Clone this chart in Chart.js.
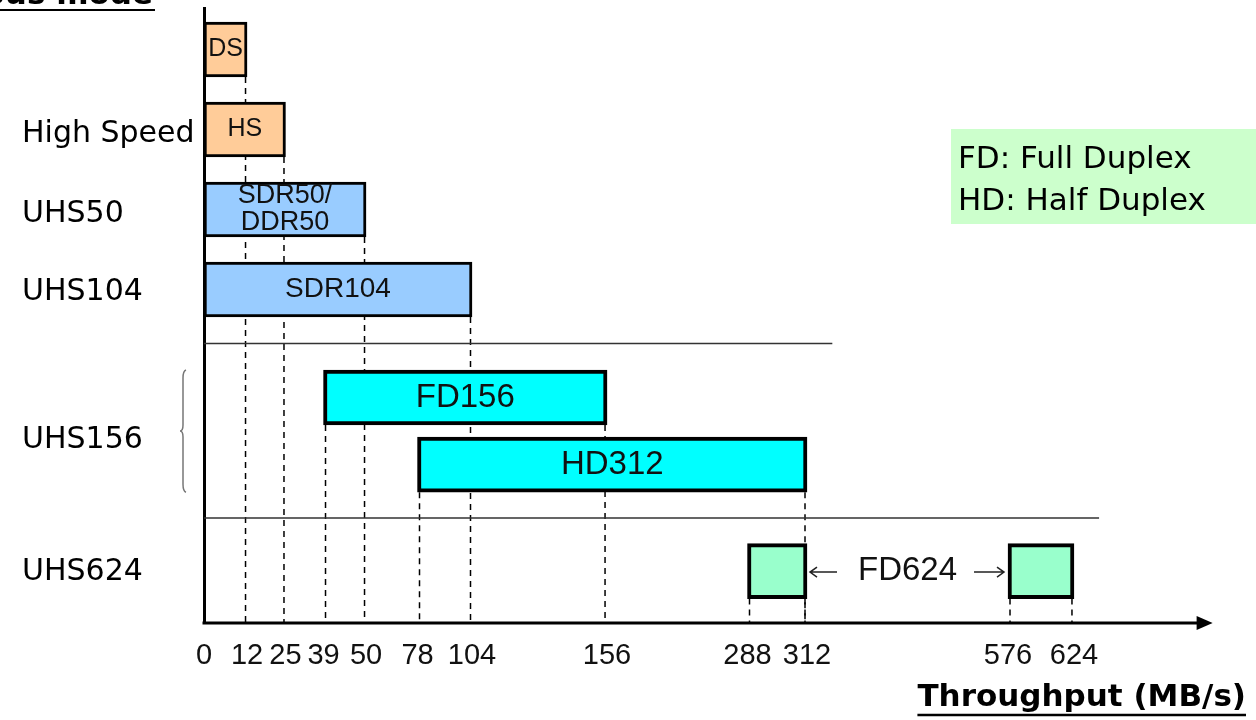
<!DOCTYPE html>
<html>
<head>
<meta charset="utf-8">
<title>Bus mode throughput</title>
<script src="https://cdn.jsdelivr.net/npm/chart.js@4.4.1/dist/chart.umd.min.js"></script>
<style>
    html, body { margin: 0; padding: 0; background: #fff; }
    #wrap { width: 1256px; height: 720px; }
</style>
</head>
<body>
<div id="wrap"><canvas id="myChart"></canvas></div>
<script>
// Bus modes shown on the left
var busModes = ['High Speed', 'UHS50', 'UHS104', 'UHS156', 'UHS624'];

// One entry per box: name, start and end throughput (MB/s)
var barNames = ['DS', 'HS', 'SDR50/\nDDR50', 'SDR104', 'FD156', 'HD312', 'FD624', 'FD624'];
var barStart = [0, 0, 0, 0, 39, 78, 288, 576];
var barEnd = [12, 25, 50, 104, 156, 312, 312, 624];

// Throughput ticks
var tickValues = [0, 12, 25, 39, 50, 78, 104, 156, 288, 312, 576, 624];

// ---- layout / style (not data) ----
// the throughput axis is not linear: where each tick sits, as a fraction of the axis length
var tickFrac = [0, 0.0413, 0.0782, 0.1147, 0.1555, 0.2049, 0.2572, 0.3868, 0.5216, 0.5787, 0.7716, 0.8349];
var axisEnd = 750;
// vertical slot of each box and of each mode label
var barRow = [0, 1, 2, 3, 4.35, 5.19, 6.52, 6.52];
var modeRow = [1.06, 2.06, 3.03, 4.89, 6.53];
var barFill = ['#FFCC99', '#FFCC99', '#99CCFF', '#99CCFF', '#00FFFF', '#00FFFF', '#99FFCC', '#99FFCC'];
var barBorder = [3, 3, 3, 3, 4, 4, 4, 4];
var barFont = [25, 25, 27, 28, 33, 33, 33, 33];

// piecewise linear scale so the ticks land where they do in the original figure
var breaks = tickValues.concat([axisEnd]);
var fracs = tickFrac.concat([1]);

function valueToFrac(v) {
    if (v <= breaks[0]) return fracs[0];
    for (var i = 1; i < breaks.length; i++) {
        if (v <= breaks[i]) {
            var t = (v - breaks[i - 1]) / (breaks[i] - breaks[i - 1]);
            return fracs[i - 1] + t * (fracs[i] - fracs[i - 1]);
        }
    }
    return 1;
}

function fracToValue(f) {
    if (f <= fracs[0]) return breaks[0];
    for (var i = 1; i < fracs.length; i++) {
        if (f <= fracs[i]) {
            var t = (f - fracs[i - 1]) / (fracs[i] - fracs[i - 1]);
            return breaks[i - 1] + t * (breaks[i] - breaks[i - 1]);
        }
    }
    return axisEnd;
}

class PiecewiseScale extends Chart.LinearScale {
    getPixelForValue(value) {
        return this.getPixelForDecimal(valueToFrac(value));
    }
    getValueForPixel(pixel) {
        return fracToValue(this.getDecimalForPixel(pixel));
    }
}
PiecewiseScale.id = 'piecewise';
PiecewiseScale.defaults = Chart.LinearScale.defaults;
Chart.register(PiecewiseScale);

var boxes = barStart.map(function (s, i) {
    return { x: [s, barEnd[i]], y: barRow[i] };
});

function barProps(bar) {
    return bar.getProps(['x', 'y', 'base', 'height'], true);
}

var decorPlugin = {
    id: 'decor',
    beforeDatasetsDraw: function (chart) {
        // dashed guides from each box edge down to the axis
        var c = chart.ctx, area = chart.chartArea;
        var bars = chart.getDatasetMeta(0).data;
        c.save();
        c.strokeStyle = '#000';
        c.lineWidth = 1.5;
        c.setLineDash([6, 5]);
        bars.forEach(function (bar, i) {
            var p = barProps(bar);
            var bottom = p.y + p.height / 2;
            var half = barBorder[i] / 2;
            var xs = [p.x - half];
            if (p.base > area.left + 2) xs.push(p.base + half);
            xs.forEach(function (x) {
                c.beginPath();
                c.moveTo(x, bottom);
                c.lineTo(x, area.bottom);
                c.stroke();
            });
        });
        c.restore();
    },
    afterDatasetsDraw: function (chart) {
        var c = chart.ctx;
        var bars = chart.getDatasetMeta(0).data;
        c.save();
        c.fillStyle = '#111';
        c.textAlign = 'center';
        c.textBaseline = 'middle';
        for (var i = 0; i < bars.length; i++) {
            var p = barProps(bars[i]);
            c.font = barFont[i] + 'px "Liberation Sans", Arial, sans-serif';
            if (i + 1 < bars.length && barNames[i + 1] === barNames[i]) {
                // same name twice: label sits between the two boxes with arrows
                var q = barProps(bars[i + 1]);
                var cx = (p.x + q.base) / 2;
                c.fillText(barNames[i], cx, p.y);
                drawArrow(c, p.x + 30, p.x + 3, p.y + 1);
                drawArrow(c, q.base - 34, q.base - 4, p.y + 1);
                i++;
                continue;
            }
            var lines = barNames[i].split('\n');
            var lh = barFont[i] * 1.0;
            var y0 = p.y - (lines.length - 1) * lh / 2;
            lines.forEach(function (t, k) {
                c.fillText(t, (p.x + p.base) / 2, y0 + k * lh);
            });
        }
        c.restore();
    },
    afterDraw: function (chart) {
        var c = chart.ctx, area = chart.chartArea;
        var w = area.right - area.left;
        var bars = chart.getDatasetMeta(0).data;
        var b = bars.map(barProps);
        c.save();

        // axis arrow
        var tip = area.left + 0.968 * w;
        c.strokeStyle = '#000';
        c.fillStyle = '#000';
        c.lineWidth = 3;
        c.beginPath();
        c.moveTo(area.left - 1.5, area.bottom);
        c.lineTo(tip - 10, area.bottom);
        c.stroke();
        c.beginPath();
        c.moveTo(tip, area.bottom);
        c.lineTo(tip - 16, area.bottom - 7);
        c.lineTo(tip - 16, area.bottom + 7);
        c.closePath();
        c.fill();

        // separators between the mode groups
        c.strokeStyle = '#333';
        c.lineWidth = 1.5;
        var sep1 = ((b[3].y + b[3].height / 2) + (b[4].y - b[4].height / 2)) / 2;
        var sep2 = ((b[5].y + b[5].height / 2) + (b[6].y - b[6].height / 2)) / 2;
        c.beginPath();
        c.moveTo(area.left, sep1);
        c.lineTo(area.left + 0.603 * w, sep1);
        c.moveTo(area.left, sep2);
        c.lineTo(area.left + 0.859 * w, sep2);
        c.stroke();

        // curly brace grouping FD156 / HD312
        var top = b[4].y - b[4].height / 2;
        var bot = b[5].y + b[5].height / 2;
        var mid = (top + bot) / 2;
        var bx = area.left - 21;
        c.strokeStyle = '#777';
        c.lineWidth = 1.5;
        c.beginPath();
        c.moveTo(bx + 3, top);
        c.quadraticCurveTo(bx, top + 1, bx, top + 8);
        c.lineTo(bx, mid - 6);
        c.quadraticCurveTo(bx, mid, bx - 3, mid);
        c.quadraticCurveTo(bx, mid, bx, mid + 6);
        c.lineTo(bx, bot - 8);
        c.quadraticCurveTo(bx, bot - 1, bx + 3, bot);
        c.stroke();

        // FD / HD note
        c.fillStyle = '#CCFFCC';
        c.fillRect(951, 129, 320, 95);
        c.fillStyle = '#000';
        c.font = '31px "DejaVu Sans", sans-serif';
        c.textAlign = 'left';
        c.textBaseline = 'alphabetic';
        c.fillText('FD: Full Duplex', 958, 168);
        c.fillText('HD: Half Duplex', 958, 210);

        // "Bus mode" heading, cut by the top edge
        c.font = 'bold 31px "DejaVu Sans", sans-serif';
        c.textAlign = 'right';
        c.fillText('Bus mode', 153, 4);
        c.lineWidth = 2;
        c.strokeStyle = '#000';
        c.beginPath();
        c.moveTo(0, 10);
        c.lineTo(155, 10);
        c.stroke();

        // underline of the axis title
        var tw = c.measureText('Throughput (MB/s)').width;
        c.lineWidth = 2.5;
        c.beginPath();
        c.moveTo(area.right - tw, 715);
        c.lineTo(area.right, 715);
        c.stroke();
        c.restore();
    }
};

function drawArrow(c, x0, x1, y) {
    var dir = x1 > x0 ? 1 : -1;
    c.save();
    c.strokeStyle = '#222';
    c.lineWidth = 1.5;
    c.beginPath();
    c.moveTo(x0, y);
    c.lineTo(x1, y);
    c.moveTo(x1 - dir * 7, y - 5);
    c.lineTo(x1, y);
    c.lineTo(x1 - dir * 7, y + 5);
    c.stroke();
    c.restore();
}

var ctx = document.getElementById('myChart').getContext('2d');
var myChart = new Chart(ctx, {
    type: 'bar',
    data: {
        datasets: [{
            data: boxes,
            backgroundColor: barFill,
            borderColor: '#000',
            borderWidth: barBorder,
            borderSkipped: false,
            barThickness: 55
        }]
    },
    options: {
        indexAxis: 'y',
        responsive: true,
        maintainAspectRatio: false,
        animation: false,
        layout: { padding: { top: 8, left: 22, right: 10, bottom: 0 } },
        plugins: {
            legend: { display: false },
            tooltip: { enabled: false }
        },
        scales: {
            x: {
                type: 'piecewise',
                min: 0,
                max: axisEnd,
                bounds: 'data',
                offset: false,
                afterBuildTicks: function (s) {
                    s.ticks = tickValues.map(function (v) { return { value: v }; });
                },
                afterFit: function (s) { s.height = 97; },
                grid: { display: false },
                border: { display: false },
                ticks: {
                    autoSkip: false,
                    maxRotation: 0,
                    minRotation: 0,
                    padding: 8,
                    color: '#111',
                    font: { family: '"Liberation Sans", Arial, sans-serif', size: 29, lineHeight: 1.2 },
                    callback: function (v) { return String(v); }
                },
                title: {
                    display: true,
                    text: 'Throughput (MB/s)',
                    align: 'end',
                    color: '#000',
                    font: { family: '"DejaVu Sans", sans-serif', size: 31, weight: 'bold', lineHeight: 1.2 },
                    padding: { top: 0, bottom: 3 }
                }
            },
            y: {
                type: 'linear',
                reverse: true,
                min: -0.519,
                max: 7.169,
                bounds: 'data',
                offset: false,
                afterBuildTicks: function (s) {
                    s.ticks = modeRow.map(function (v) { return { value: v }; });
                },
                afterFit: function (s) {
                    s.width = 182;
                    s.paddingTop = 0;
                    s.paddingBottom = 0;
                },
                grid: { display: false },
                border: { display: true, color: '#000', width: 3 },
                ticks: {
                    crossAlign: 'far',
                    color: '#000',
                    font: { family: '"DejaVu Sans", sans-serif', size: 30, lineHeight: 0.4 },
                    callback: function (v, i) { return busModes[i]; }
                }
            }
        }
    },
    plugins: [decorPlugin]
});
</script>
</body>
</html>
